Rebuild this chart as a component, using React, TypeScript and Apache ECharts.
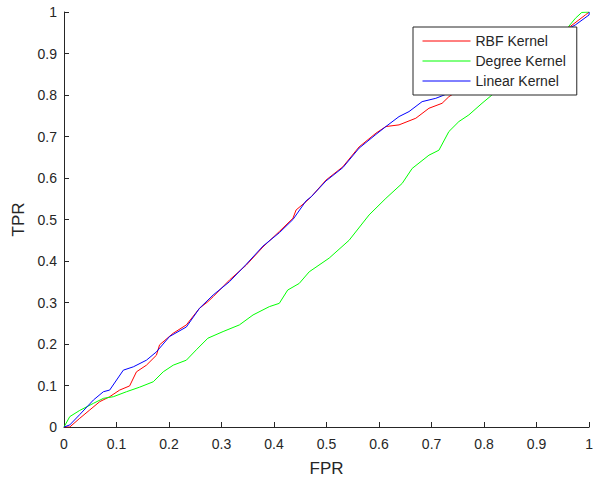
import React, { useEffect, useRef } from "react";
import * as echarts from "echarts";

const xTicks = [0, 0.1, 0.2, 0.3, 0.4, 0.5, 0.6, 0.7, 0.8, 0.9, 1];

const rbfFpr = [0, 0.011, 0.03, 0.049, 0.068, 0.087, 0.106, 0.125, 0.138, 0.157, 0.176, 0.182, 0.208, 0.233, 0.258, 0.274, 0.284, 0.315, 0.347, 0.379, 0.41, 0.436, 0.442, 0.461, 0.471, 0.499, 0.531, 0.562, 0.594, 0.613, 0.638, 0.67, 0.695, 0.72, 0.733, 0.8, 0.88, 0.93, 0.964, 0.993, 1];
const rbfTpr = [0, 0, 0.021, 0.041, 0.061, 0.073, 0.089, 0.099, 0.133, 0.149, 0.173, 0.198, 0.226, 0.246, 0.286, 0.302, 0.314, 0.354, 0.39, 0.434, 0.471, 0.503, 0.523, 0.543, 0.555, 0.595, 0.627, 0.675, 0.708, 0.724, 0.728, 0.744, 0.768, 0.78, 0.796, 0.85, 0.91, 0.945, 0.965, 0.993, 1];

const degFpr = [0, 0.011, 0.03, 0.056, 0.075, 0.094, 0.119, 0.144, 0.17, 0.189, 0.208, 0.233, 0.252, 0.274, 0.303, 0.334, 0.36, 0.391, 0.41, 0.426, 0.448, 0.467, 0.505, 0.543, 0.581, 0.613, 0.644, 0.663, 0.695, 0.714, 0.733, 0.752, 0.771, 0.796, 0.815, 0.85, 0.9, 0.94, 0.961, 0.974, 0.986, 1];
const degTpr = [0, 0.025, 0.04, 0.057, 0.069, 0.073, 0.085, 0.096, 0.109, 0.133, 0.149, 0.161, 0.186, 0.214, 0.23, 0.246, 0.27, 0.29, 0.298, 0.33, 0.346, 0.374, 0.407, 0.45, 0.511, 0.551, 0.587, 0.623, 0.655, 0.667, 0.712, 0.736, 0.752, 0.78, 0.8, 0.84, 0.895, 0.94, 0.965, 0.985, 0.999, 1];

const linFpr = [0, 0.011, 0.03, 0.056, 0.075, 0.087, 0.113, 0.132, 0.157, 0.176, 0.201, 0.233, 0.258, 0.284, 0.315, 0.347, 0.379, 0.41, 0.436, 0.461, 0.471, 0.499, 0.531, 0.562, 0.594, 0.613, 0.638, 0.657, 0.682, 0.708, 0.724, 0.8, 0.88, 0.93, 0.974, 1, 1];
const linTpr = [0, 0.005, 0.03, 0.065, 0.085, 0.089, 0.137, 0.145, 0.161, 0.181, 0.218, 0.241, 0.286, 0.318, 0.35, 0.392, 0.436, 0.468, 0.5, 0.545, 0.555, 0.593, 0.625, 0.672, 0.705, 0.724, 0.748, 0.76, 0.784, 0.792, 0.8, 0.85, 0.905, 0.94, 0.969, 0.993, 1];

const seriesNames = ["RBF Kernel", "Degree Kernel", "Linear Kernel"];
const seriesColors = ["#ff0000", "#00ff00", "#0000ff"];

const pair = (xs: number[], ys: number[]) => xs.map((x, i) => [x, ys[i]]);

export default function App() {
  const ref = useRef<HTMLDivElement>(null);
  useEffect(() => {
    if (!ref.current) return;
    const chart = echarts.init(ref.current, null, { renderer: "svg" });
    const font = "Liberation Sans, Arial, Helvetica, sans-serif";
    const axisColor = "#262626";
    const datasets = [pair(rbfFpr, rbfTpr), pair(degFpr, degTpr), pair(linFpr, linTpr)];
    const fmt = (v: number) => String(parseFloat(v.toFixed(1)));
    chart.setOption({
      animation: false,
      backgroundColor: "#ffffff",
      textStyle: { fontFamily: font },
      grid: { left: 64, right: 5.5, top: 12, bottom: 54.5, containLabel: false },
      xAxis: {
        type: "value",
        min: 0,
        max: 1,
        interval: 0.1,
        name: "FPR",
        nameLocation: "middle",
        nameGap: 33,
        nameTextStyle: { fontSize: 17, color: axisColor, fontFamily: font },
        axisLine: { show: true, lineStyle: { color: axisColor, width: 1 } },
        axisTick: { show: true, inside: true, length: 5, lineStyle: { color: axisColor } },
        axisLabel: { fontSize: 14, color: axisColor, margin: 10, fontFamily: font, formatter: fmt },
        splitLine: { show: false },
      },
      yAxis: {
        type: "value",
        min: 0,
        max: 1,
        interval: 0.1,
        name: "TPR",
        nameLocation: "middle",
        nameGap: 34,
        nameRotate: 90,
        nameTextStyle: { fontSize: 17, color: axisColor, fontFamily: font },
        axisLine: { show: true, lineStyle: { color: axisColor, width: 1 } },
        axisTick: { show: true, inside: true, length: 5, lineStyle: { color: axisColor } },
        axisLabel: { fontSize: 14, color: axisColor, margin: 7, fontFamily: font, formatter: fmt },
        splitLine: { show: false },
      },
      legend: {
        show: true,
        orient: "vertical",
        left: 413,
        top: 27,
        padding: [7, 11, 7, 9],
        itemGap: 6,
        itemWidth: 48,
        itemHeight: 14,
        backgroundColor: "#ffffff",
        borderColor: "#262626",
        borderWidth: 1,
        borderRadius: 0,
        itemStyle: { opacity: 0 },
        lineStyle: { width: 1 },
        textStyle: { fontSize: 14, color: axisColor, fontFamily: font },
        data: seriesNames,
        z: 10,
      },
      series: seriesNames.map((name, i) => ({
        name,
        type: "line",
        data: datasets[i],
        symbol: "none",
        showSymbol: false,
        lineStyle: { color: seriesColors[i], width: 1 },
        itemStyle: { color: seriesColors[i] },
        z: 2,
      })),
    });
    return () => chart.dispose();
  }, []);
  return (
    <div
      ref={ref}
      style={{ position: "fixed", left: 0, top: 0, width: 596, height: 482, background: "#fff" }}
    />
  );
}
